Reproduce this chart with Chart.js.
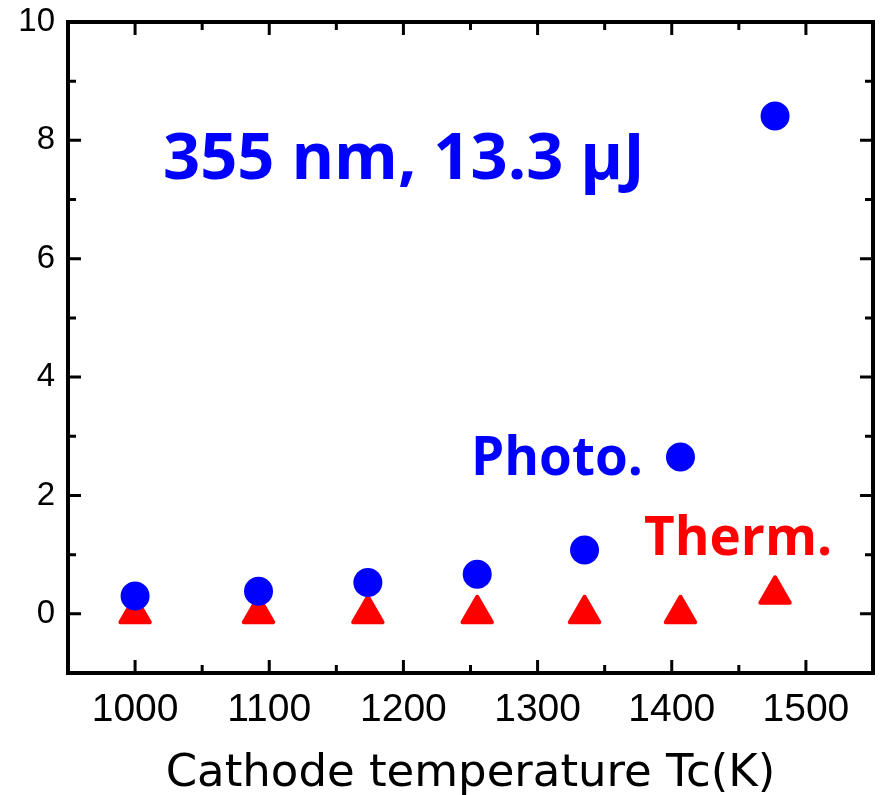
<!DOCTYPE html>
<html><head><meta charset="utf-8">
<script src="https://cdn.jsdelivr.net/npm/chart.js@4"></script>
<style>html,body{margin:0;padding:0;background:#fff}#wrap{width:881px;height:795px}</style>
</head><body><div id="wrap"><canvas id="c" width="881" height="795"></canvas></div>
<script>
const temperatures = [1000, 1092, 1173.5, 1255, 1335, 1406.5, 1477];
const photoValues = [0.30, 0.38, 0.53, 0.67, 1.08, 2.65, 8.41];
const thermValues = [0.00, 0.00, 0.00, 0.00, 0.00, 0.00, 0.33];
const xTickValues = [1000, 1100, 1200, 1300, 1400, 1500];
const xMinorValues = [1050, 1150, 1250, 1350, 1450];
const yTickValues = [0, 2, 4, 6, 8, 10];
const yMinorValues = [1, 3, 5, 7, 9];
const xTitle = 'Cathode temperature Tc(K)';
const annotations = [
  {text: '355 nm, 13.3 \u03BCJ', color: '#0000FF', size: 65, x: 163, y: 179},
  {text: 'Photo.', color: '#0000FF', size: 53, x: 471, y: 475},
  {text: 'Therm.', color: '#FF0000', size: 53, x: 644, y: 555}
];

const photoData = temperatures.map((t, i) => ({x: t, y: photoValues[i]}));
const thermData = temperatures.map((t, i) => ({x: t, y: thermValues[i]}));

const framePlugin = {
  id: 'frame',
  beforeDatasetsDraw(chart) { chart.ctx.lineJoin = 'round'; },
  afterDatasetsDraw(chart) { chart.ctx.lineJoin = 'miter'; },
  afterDraw(chart) {
    const ctx = chart.ctx, a = chart.chartArea;
    const xs = chart.scales.x, ys = chart.scales.y;
    ctx.save();
    ctx.strokeStyle = '#000';
    ctx.lineCap = 'butt';
    ctx.lineWidth = 3;
    const major = 13, minor = 8;
    ctx.beginPath();
    const vt = (v, len) => {
      const p = xs.getPixelForValue(v);
      ctx.moveTo(p, a.bottom); ctx.lineTo(p, a.bottom - len);
      ctx.moveTo(p, a.top); ctx.lineTo(p, a.top + len);
    };
    const ht = (v, len) => {
      const p = ys.getPixelForValue(v);
      ctx.moveTo(a.left, p); ctx.lineTo(a.left + len, p);
      ctx.moveTo(a.right, p); ctx.lineTo(a.right - len, p);
    };
    xTickValues.forEach(v => vt(v, major));
    xMinorValues.forEach(v => vt(v, minor));
    yTickValues.forEach(v => ht(v, major));
    yMinorValues.forEach(v => ht(v, minor));
    ctx.stroke();
    ctx.lineWidth = 4;
    ctx.lineJoin = 'miter';
    ctx.strokeRect(a.left, a.top, a.right - a.left, a.bottom - a.top);
    annotations.forEach(an => {
      ctx.font = 'bold ' + an.size + 'px "Open Sans"';
      ctx.fillStyle = an.color;
      ctx.textBaseline = 'alphabetic';
      ctx.textAlign = 'left';
      ctx.fillText(an.text, an.x, an.y);
    });
    ctx.restore();
  }
};

new Chart(document.getElementById('c'), {
  type: 'scatter',
  data: {
    datasets: [
      {label: 'Photo.', data: photoData, pointStyle: 'circle', pointRadius: 14.5,
       backgroundColor: '#0000FF', borderWidth: 0, order: 0},
      {label: 'Therm.', data: thermData, pointStyle: 'triangle', pointRadius: 17,
       backgroundColor: '#FF0000', borderColor: '#FF0000', borderWidth: 4, order: 1}
    ]
  },
  options: {
    responsive: false,
    animation: false,
    events: [],
    layout: {autoPadding: false, padding: {top: 22, right: 8, left: 0, bottom: 0}},
    plugins: {legend: {display: false}, tooltip: {enabled: false}},
    scales: {
      x: {
        type: 'linear', min: 950, max: 1550,
        afterBuildTicks: s => { s.ticks = xTickValues.map(v => ({value: v})); },
        afterFit: s => { s.height = 122; s.paddingLeft = 0; s.paddingRight = 0; },
        grid: {display: false, drawTicks: false},
        border: {display: false},
        ticks: {font: {family: '"Liberation Sans"', size: 39}, color: '#000', padding: 14, maxRotation: 0,
                callback: v => String(v)},
        title: {display: true, text: xTitle, color: '#000', font: {family: '"DejaVu Sans"', size: 45}, padding: {top: 4, bottom: -6}}
      },
      y: {
        type: 'linear', min: -1, max: 10,
        afterBuildTicks: s => { s.ticks = yTickValues.map(v => ({value: v})); },
        afterFit: s => { s.width = 68; s.paddingTop = 0; s.paddingBottom = 0; },
        grid: {display: false, drawTicks: false},
        border: {display: false},
        ticks: {font: {family: '"Liberation Sans"', size: 33}, color: '#000', padding: 13,
                callback: v => String(v)}
      }
    }
  },
  plugins: [framePlugin]
});
</script></body></html>
